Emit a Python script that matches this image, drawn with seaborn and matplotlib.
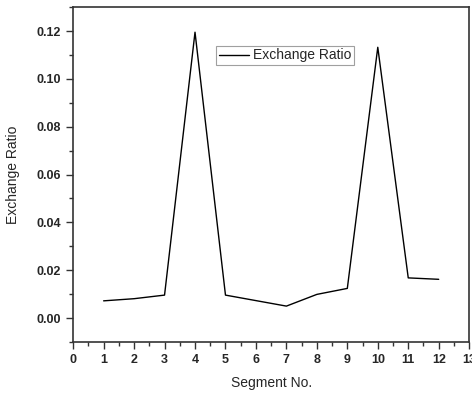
import numpy as np
import matplotlib
matplotlib.use("Agg")
import matplotlib.pyplot as plt
import seaborn as sns
import pandas as pd
from matplotlib.ticker import MultipleLocator

sns.set_style("white")
plt.rcParams['font.family'] = ['Liberation Sans', 'DejaVu Sans']

segments = [1, 2, 3, 4, 5, 6, 7, 8, 9, 10, 11, 12]
exchange_ratio = [0.0072, 0.0081, 0.0096, 0.1195, 0.0096, 0.0073, 0.0050,
                  0.0099, 0.0124, 0.1132, 0.0168, 0.0162]

df = pd.DataFrame({'Segment No.': segments, 'Exchange Ratio': exchange_ratio})

fig = plt.figure(figsize=(4.72, 3.94), dpi=100)
ax = fig.add_axes([0.155, 0.132, 0.839, 0.850])

sns.lineplot(data=df, x='Segment No.', y='Exchange Ratio', color='black',
             linewidth=1.0, label='Exchange Ratio', ax=ax)

ax.set_xlim(0, 13)
ax.set_ylim(-0.01, 0.13)
ax.xaxis.set_major_locator(MultipleLocator(1))
ax.xaxis.set_minor_locator(MultipleLocator(0.5))
ax.yaxis.set_minor_locator(MultipleLocator(0.01))
ax.set_yticks([0.0, 0.02, 0.04, 0.06, 0.08, 0.10, 0.12])
ax.set_yticklabels(['0.00', '0.02', '0.04', '0.06', '0.08', '0.10', '0.12'])

ax.tick_params(which='major', direction='out', length=5, width=1, color='#333333',
               labelsize=9, bottom=True, left=True)
ax.tick_params(which='minor', direction='out', length=3, width=1, color='#333333',
               bottom=True, left=True)
for lbl in ax.get_xticklabels() + ax.get_yticklabels():
    lbl.set_fontweight('bold')

for s in ax.spines.values():
    s.set_color('#333333')
    s.set_linewidth(1.2)

ax.set_xlabel('Segment No.', fontsize=10, labelpad=7)
ax.set_ylabel('Exchange Ratio', fontsize=10, labelpad=12)

leg = ax.legend(loc='upper left', bbox_to_anchor=(0.36, 0.885), frameon=True,
                fancybox=False, fontsize=10, handlelength=2.2, borderpad=0.2,
                handletextpad=0.3, borderaxespad=0)
leg.get_frame().set_edgecolor('#888888')
leg.get_frame().set_linewidth(0.8)

fig.savefig('out.png', dpi=100)
